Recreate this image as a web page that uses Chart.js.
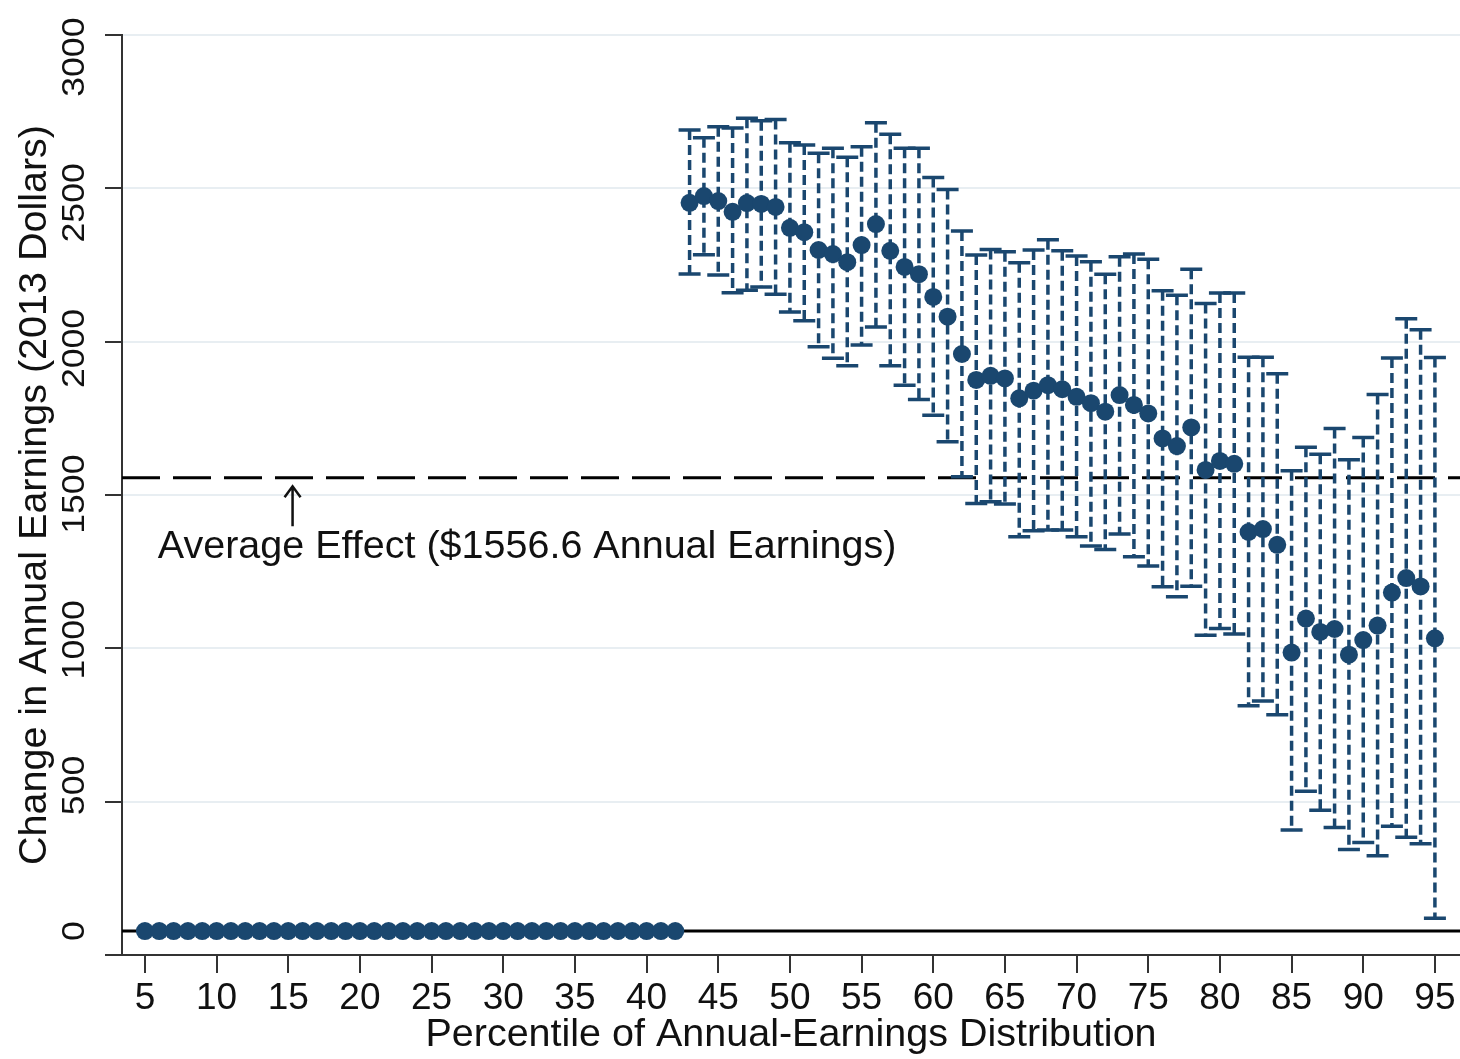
<!DOCTYPE html>
<html>
<head>
<meta charset="utf-8">
<script src="https://cdn.jsdelivr.net/npm/chart.js@4.4.1/dist/chart.umd.min.js"></script>
<style>
  html, body { margin: 0; padding: 0; background: #fff; }
</style>
</head>
<body>
<canvas id="chart" width="1460" height="1059"></canvas>
<script>
// percentile of the annual-earnings distribution
const percentiles = [
  5, 6, 7, 8, 9, 10, 11, 12, 13, 14, 15, 16, 17, 18, 19, 20, 21, 22, 23, 24,
  25, 26, 27, 28, 29, 30, 31, 32, 33, 34, 35, 36, 37, 38, 39, 40, 41, 42,
  43, 44, 45, 46, 47, 48, 49, 50, 51, 52, 53, 54, 55, 56, 57, 58, 59, 60,
  61, 62, 63, 64, 65, 66, 67, 68, 69, 70, 71, 72, 73, 74, 75, 76, 77, 78,
  79, 80, 81, 82, 83, 84, 85, 86, 87, 88, 89, 90, 91, 92, 93, 94, 95
];

// point estimates (2013 dollars)
const estimates = [
  0, 0, 0, 0, 0, 0, 0, 0, 0, 0, 0, 0, 0, 0, 0, 0, 0, 0, 0, 0,
  0, 0, 0, 0, 0, 0, 0, 0, 0, 0, 0, 0, 0, 0, 0, 0, 0, 0,
  2500, 2523, 2506, 2469, 2499, 2496, 2486, 2414, 2399, 2338, 2324, 2296, 2355, 2427, 2335, 2280, 2255, 2177,
  2109, 1981, 1892, 1906, 1897, 1829, 1855, 1874, 1860, 1834, 1812, 1783, 1840, 1806, 1777, 1691, 1665, 1729,
  1583, 1614, 1604, 1370, 1380, 1326, 956, 1073, 1027, 1037, 949, 999, 1049, 1162, 1212, 1183, 1005
];

// confidence interval bounds (null where no interval is drawn)
const upperCI = [
  null, null, null, null, null, null, null, null, null, null, null, null, null, null, null, null, null, null, null, null,
  null, null, null, null, null, null, null, null, null, null, null, null, null, null, null, null, null, null,
  2750, 2723, 2761, 2757, 2790, 2782, 2786, 2706, 2698, 2670, 2687, 2656, 2692, 2775, 2735, 2687, 2687, 2587,
  2546, 2403, 2321, 2340, 2332, 2294, 2338, 2373, 2335, 2317, 2298, 2255, 2315, 2324, 2306, 2198, 2183, 2272,
  2154, 2190, 2190, 1970, 1970, 1913, 1580, 1661, 1637, 1725, 1618, 1694, 1842, 1967, 2102, 2064, 1969
];
const lowerCI = [
  null, null, null, null, null, null, null, null, null, null, null, null, null, null, null, null, null, null, null, null,
  null, null, null, null, null, null, null, null, null, null, null, null, null, null, null, null, null, null,
  2256, 2322, 2252, 2191, 2200, 2211, 2186, 2125, 2095, 2006, 1966, 1941, 2012, 2074, 1941, 1874, 1825, 1771,
  1680, 1560, 1468, 1474, 1466, 1354, 1374, 1377, 1377, 1354, 1322, 1310, 1363, 1285, 1253, 1182, 1148, 1184,
  1016, 1039, 1020, 774, 790, 743, 347, 480, 415, 356, 280, 304, 259, 360, 322, 300, 44
];

const yTicks = [0, 500, 1000, 1500, 2000, 2500, 3000];
const averageEffect = 1556.6;
const averageLabel = 'Average Effect ($1556.6 Annual Earnings)';
// where the annotation sits, in data units
const labelAt = { x: 5.9, y: 1318 };
const arrowAt = { x: 15.3, from: 1390, to: 1527 };

const navy = '#1a476f';
const fontFamily = '"Liberation Sans", Arial, sans-serif';

const overlay = {
  id: 'overlay',
  beforeDatasetsDraw(chart) {
    const { ctx, chartArea, scales: { x, y } } = chart;
    ctx.save();

    // zero line
    ctx.strokeStyle = '#000';
    ctx.lineWidth = 3;
    ctx.beginPath();
    ctx.moveTo(chartArea.left, y.getPixelForValue(0));
    ctx.lineTo(chartArea.right, y.getPixelForValue(0));
    ctx.stroke();

    // average effect, long dashes
    ctx.setLineDash([38, 13]);
    ctx.lineWidth = 3;
    ctx.beginPath();
    ctx.moveTo(chartArea.left, y.getPixelForValue(averageEffect));
    ctx.lineTo(chartArea.right, y.getPixelForValue(averageEffect));
    ctx.stroke();

    // confidence intervals
    ctx.strokeStyle = navy;
    ctx.lineWidth = 3.5;
    percentiles.forEach((p, i) => {
      if (upperCI[i] == null) return;
      const px = x.getPixelForValue(p);
      const top = y.getPixelForValue(upperCI[i]);
      const bot = y.getPixelForValue(lowerCI[i]);
      ctx.setLineDash([10, 5]);
      ctx.beginPath();
      ctx.moveTo(px, top);
      ctx.lineTo(px, bot);
      ctx.stroke();
      ctx.setLineDash([]);
      ctx.beginPath();
      ctx.moveTo(px - 11, top);
      ctx.lineTo(px + 11, top);
      ctx.moveTo(px - 11, bot);
      ctx.lineTo(px + 11, bot);
      ctx.stroke();
    });
    ctx.restore();
  },
  afterDraw(chart) {
    const { ctx, scales: { x, y } } = chart;
    ctx.save();
    ctx.fillStyle = '#111';
    ctx.strokeStyle = '#111';

    // arrow pointing at the average line
    const ax = x.getPixelForValue(arrowAt.x);
    const a0 = y.getPixelForValue(arrowAt.from);
    const a1 = y.getPixelForValue(arrowAt.to);
    ctx.lineWidth = 2.5;
    ctx.beginPath();
    ctx.moveTo(ax, a0);
    ctx.lineTo(ax, a1);
    ctx.moveTo(ax - 8, a1 + 11);
    ctx.lineTo(ax, a1);
    ctx.lineTo(ax + 8, a1 + 11);
    ctx.stroke();

    ctx.font = '39.5px ' + fontFamily;
    ctx.textAlign = 'left';
    ctx.textBaseline = 'middle';
    ctx.fillText(averageLabel, x.getPixelForValue(labelAt.x), y.getPixelForValue(labelAt.y));

    // y tick labels, rotated and a bit stretched like the original
    ctx.font = '31px ' + fontFamily;
    ctx.textAlign = 'center';
    ctx.textBaseline = 'alphabetic';
    yTicks.forEach(v => {
      ctx.save();
      ctx.translate(84, y.getPixelForValue(v));
      ctx.rotate(-Math.PI / 2);
      ctx.scale(1.15, 1);
      ctx.fillText(String(v), 0, 0);
      ctx.restore();
    });
    ctx.restore();
  }
};

new Chart(document.getElementById('chart'), {
  type: 'scatter',
  data: {
    datasets: [{
      data: percentiles.map((p, i) => ({ x: p, y: estimates[i] })),
      backgroundColor: navy,
      borderWidth: 0,
      pointRadius: 9,
      pointHoverRadius: 9
    }]
  },
  options: {
    responsive: false,
    animation: false,
    devicePixelRatio: 1,
    layout: { autoPadding: false, padding: { top: 35, right: 0, left: 0, bottom: 0 } },
    plugins: {
      legend: { display: false },
      tooltip: { enabled: false }
    },
    scales: {
      x: {
        type: 'linear',
        min: 3.4,
        max: 96.75,
        ticks: {
          stepSize: 5,
          includeBounds: false,
          autoSkip: false,
          maxRotation: 0,
          padding: 4,
          color: '#111',
          font: { family: fontFamily, size: 37 }
        },
        grid: { drawOnChartArea: false, drawTicks: true, tickLength: 18, tickColor: '#333', lineWidth: 2 },
        border: { display: true, color: '#333', width: 2 },
        title: {
          display: true,
          text: 'Percentile of Annual-Earnings Distribution',
          color: '#111',
          font: { family: fontFamily, size: 39.5 },
          padding: { top: 0, bottom: 0 }
        },
        afterFit: s => { s.height = 104; s.paddingLeft = 0; s.paddingRight = 0; }
      },
      y: {
        min: -82,
        max: 3076,
        ticks: { stepSize: 500, includeBounds: false, display: false },
        grid: { color: '#e8eef2', lineWidth: 2, tickLength: 17, tickColor: '#333' },
        border: { display: true, color: '#333', width: 2 },
        title: {
          display: true,
          text: 'Change in Annual Earnings (2013 Dollars)',
          color: '#111',
          font: { family: fontFamily, size: 39.5 },
          padding: { top: 11, bottom: 0 }
        },
        afterFit: s => { s.width = 122; }
      }
    }
  },
  plugins: [overlay]
});
</script>
</body>
</html>
